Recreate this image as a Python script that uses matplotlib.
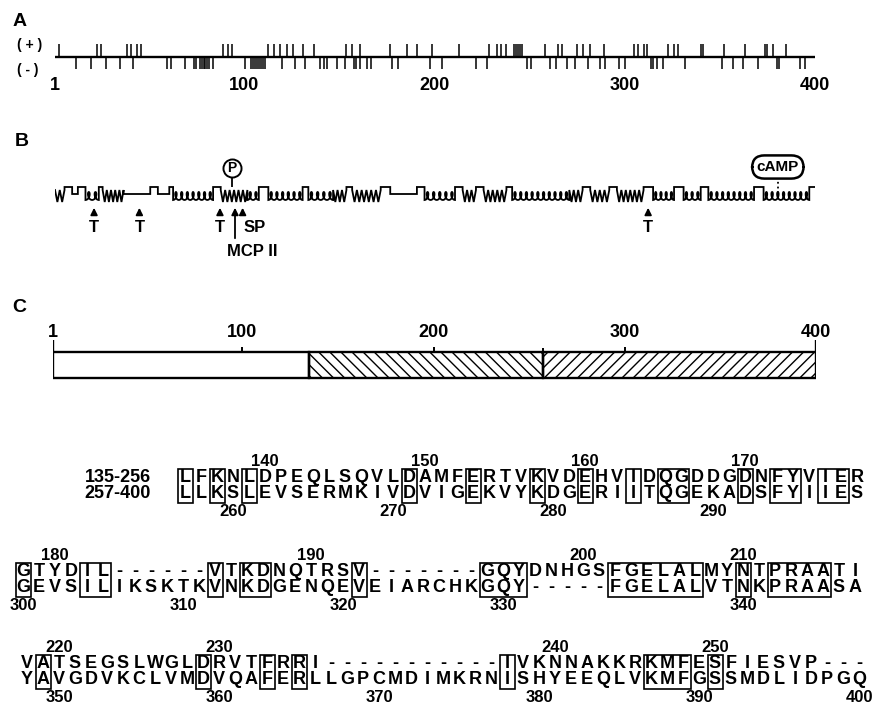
#!/usr/bin/env python3
"""
plot.py

Redraws the three-panel protein map: (A) charged residues along the chain,
(B) predicted secondary structure with cleavage sites, (C) domain layout
and the alignment of the two internal repeats.  Output goes to out.png.
"""

import numpy as np
import matplotlib
matplotlib.use('Agg')
import matplotlib.pyplot as plt
from matplotlib.patches import Rectangle

W, H = 875, 708

plt.rcParams['font.family'] = ['Liberation Sans', 'DejaVu Sans']
plt.rcParams['font.weight'] = 'bold'
plt.rcParams['hatch.linewidth'] = 1.0

# --- panel A: residue numbers of charged side chains ---
pos_charge = [3, 23, 25, 39, 41, 44, 46, 89, 92, 94, 113, 116, 119, 123, 126,
              131, 137, 154, 157, 161, 177, 186, 191, 199, 213, 229, 233, 235,
              238, 242, 243, 244, 245, 246, 258, 265, 267, 275, 278, 282, 289,
              305, 307, 310, 312, 323, 326, 328, 340, 341, 352, 363, 374, 375,
              378, 385]
neg_charge = [12, 20, 28, 35, 42, 60, 62, 69, 74, 75, 77, 78, 79, 80, 81, 82,
              84, 101, 104, 105, 106, 107, 108, 109, 110, 111, 120, 127, 132,
              140, 142, 144, 149, 153, 158, 159, 161, 165, 167, 178, 181, 198,
              204, 222, 228, 249, 251, 261, 264, 270, 274, 281, 287, 290, 297,
              300, 314, 315, 317, 320, 332, 351, 357, 362, 370, 380, 381, 392,
              395]
axis_ticks = [1, 100, 200, 300, 400]

# --- panel B: secondary structure segments (type, first, last residue) ---
# E = beta strand, H = helix, T = turn, C = coil
ss_types = ['E', 'T', 'C', 'T', 'H', 'T', 'E', 'C', 'T', 'C', 'T', 'H', 'T',
            'E', 'H', 'T', 'H', 'T', 'H', 'E', 'T', 'E', 'T', 'C', 'T', 'H',
            'T', 'E', 'T', 'E', 'T', 'H', 'E', 'T', 'E', 'T', 'E', 'T', 'H',
            'T', 'H', 'T', 'H', 'T', 'H', 'T']
ss_bounds = [1, 6, 10, 13, 17, 24, 26, 37, 51, 55, 61, 63, 84, 88, 102, 108,
             113, 131, 134, 147, 154, 157, 172, 177, 191, 195, 211, 215, 222,
             226, 238, 241, 271, 278, 282, 292, 296, 310, 315, 326, 331, 340,
             344, 368, 373, 397, 400]
trypsin_sites = [21.5, 45.3, 87.6, 312.4]
mcp_site = 95.5
sp_site = 99.5
phospho_site = 93.8
camp_site = 380.5

# --- panel C: domains ---
domain_bounds = [1, 135, 257, 400]
domain_hatch = [None, '\\\\\\', '///']

# --- alignment of the repeats ---
seq_top = ['LFKNLDPEQLSQVLDAMFERTVKVDEHVIDQGDDGDNFYVIER',
           'GTYDIL------VTKDNQTRSV-------GQYDNHGSFGELALMYNTPRAATI',
           'VATSEGSLWGLDRVTFRRI-----------IVKNNAKKRKMFESFIESVP---']
seq_bot = ['LLKSLEVSERMKIVDVIGEKVYKDGERIITQGEKADSFYIIES',
           'GEVSILIKSKTKVNKDGENQEVEIARCHKGQY-----FGELALVTNKPRAASA',
           'YAVGDVKCLVMDVQAFERLLGPCMDIMKRNISHYEEQLVKMFGSSMDLIDPGQ']
num_top = [[('140', 5), ('150', 15), ('160', 25), ('170', 35)],
           [('180', 2), ('190', 18), ('200', 35), ('210', 45)],
           [('220', 2), ('230', 12), ('240', 33), ('250', 43)]]
num_bot = [[('260', 3), ('270', 13), ('280', 23), ('290', 33)],
           [('300', 0), ('310', 10), ('320', 20), ('330', 30), ('340', 45)],
           [('350', 2), ('360', 12), ('370', 22), ('380', 32), ('390', 42),
            ('400', 52)]]
# identical residues, boxed as column ranges
boxes = [[(0, 0), (2, 2), (4, 4), (14, 14), (18, 18), (22, 22), (25, 25),
          (28, 28), (30, 31), (35, 35), (37, 38), (40, 41)],
         [(0, 0), (4, 5), (12, 12), (14, 15), (21, 21), (29, 31), (37, 42),
          (45, 45), (47, 50)],
         [(1, 1), (11, 11), (15, 15), (17, 17), (30, 30), (39, 41), (43, 43)]]
row_labels = ['135-256', '257-400']


def residue_axes(fig, x1, x400, ytop, ybot, ylim):
    """Axes whose x scale is residue number, placed by pixel box."""
    ax = fig.add_axes([x1 / W, 1 - ybot / H, (x400 - x1) / W, (ybot - ytop) / H])
    ax.set_xlim(1, 400)
    ax.set_ylim(*ylim)
    ax.axis('off')
    return ax


def draw_charge(fig, bg):
    ax = residue_axes(fig, 55, 815, 17, 97, (-40, 40))
    ax.hlines(0, 1, 400, color='black', lw=1.7)
    ax.vlines(pos_charge, 0, 13, color='black', lw=1.1)
    ax.vlines(neg_charge, -12, 0, color='black', lw=1.1)
    for t in axis_ticks:
        ax.text(t, -28, str(t), ha='center', va='center', fontsize=13,
                fontweight='bold', clip_on=False)
    bg.text(13, 21, 'A', fontsize=14, fontweight='bold', va='center')
    bg.text(17, 45, '( + )', fontsize=10, fontweight='bold', va='center')
    bg.text(17, 70, '( - )', fontsize=10, fontweight='bold', va='center')


def structure_path():
    xs, ys = [], []
    for kind, r0, r1 in zip(ss_types, ss_bounds[:-1], ss_bounds[1:]):
        if kind == 'E':
            n = max(1, int(round((r1 - r0) / 2.4)))
            px = np.linspace(r0, r1, 2 * n + 1)
            py = np.where(np.arange(2 * n + 1) % 2 == 0, 10, -2)
        elif kind == 'H':
            n = max(1, int(round((r1 - r0) / 3.0)))
            t = np.linspace(0, 2 * np.pi * n, 40 * n)
            c = (r1 - r0) / (2 * np.pi * n)
            px = r0 + c * t + 2.2 * c * np.sin(t)
            py = 4 * (1 - np.cos(t))
        elif kind == 'T':
            px = np.array([r0, r1])
            py = np.array([13, 13])
        else:
            px = np.array([r0, r1])
            py = np.array([6, 6])
        xs.extend(px)
        ys.extend(py)
    return xs, ys


def draw_structure(fig, bg):
    ax = residue_axes(fig, 55, 815, 150, 260, (-60, 50))
    xs, ys = structure_path()
    ax.plot(xs, ys, color='black', lw=1.3, solid_joinstyle='miter')

    arrow = dict(arrowstyle='-|>', color='black', lw=1.3, mutation_scale=10)
    for r in trypsin_sites:
        ax.annotate('', xy=(r, -5), xytext=(r, -17), arrowprops=arrow)
        ax.text(r, -27, 'T', ha='center', va='center', fontsize=12,
                fontweight='bold')
    ax.annotate('', xy=(sp_site, -5), xytext=(sp_site, -17), arrowprops=arrow)
    ax.text(sp_site + 0.6, -27, 'SP', ha='left', va='center', fontsize=12,
            fontweight='bold')
    ax.annotate('', xy=(mcp_site, -5), xytext=(mcp_site, -41), arrowprops=arrow)
    ax.text(mcp_site + 9, -51, 'MCP II', ha='center', va='center', fontsize=12,
            fontweight='bold')

    # phosphorylation site
    ax.vlines(phospho_site, 13, 24, color='black', lw=1.3)
    ax.plot([phospho_site], [32.5], 'o', ms=13, mfc='white', mec='black',
            mew=1.4)
    ax.text(phospho_site, 32.5, 'P', ha='center', va='center', fontsize=10,
            fontweight='bold')

    # cAMP binding site
    ax.vlines(camp_site, 2, 23, color='black', lw=1.3, linestyles=':')
    ax.text(camp_site, 33, 'cAMP', ha='center', va='center', fontsize=11,
            fontweight='bold',
            bbox=dict(boxstyle='round,pad=0.3,rounding_size=0.8', fc='white',
                      ec='black', lw=1.8))
    bg.text(15, 142, 'B', fontsize=14, fontweight='bold', va='center')


def draw_domains(fig, bg):
    ax = residue_axes(fig, 53, 816, 320, 390, (-12, 58))
    for (r0, r1), hatch in zip(zip(domain_bounds[:-1], domain_bounds[1:]),
                               domain_hatch):
        if hatch is None:
            ax.add_patch(Rectangle((r0, 0), r1 - r0, 26, fc='white',
                                   ec='black', lw=1.7))
        else:
            ax.add_patch(Rectangle((r0, 0), r1 - r0, 26, fill=False,
                                   ec='black', lw=1.7, hatch=hatch))
    ax.vlines([1, 400], 26, 38, color='black', lw=1.7)
    ax.vlines([100, 200, 300], 26, 31, color='black', lw=1.4)
    ax.vlines(domain_bounds[2], 26, 30, color='black', lw=1.4)
    for t in axis_ticks:
        ax.text(t, 45, str(t), ha='center', va='center', fontsize=13,
                fontweight='bold')
    bg.text(12, 307, 'C', fontsize=14, fontweight='bold', va='center')


def draw_alignment(bg):
    x0s = [185, 23, 27]
    y_top = [478, 572, 664]
    y_bot = [494, 588, 680]
    step = 16
    for i in range(3):
        for col, ch in enumerate(seq_top[i]):
            bg.text(x0s[i] + col * step, y_top[i], ch, ha='center',
                    va='center', fontsize=13, fontweight='bold')
        for col, ch in enumerate(seq_bot[i]):
            bg.text(x0s[i] + col * step, y_bot[i], ch, ha='center',
                    va='center', fontsize=13, fontweight='bold')
        for label, col in num_top[i]:
            bg.text(x0s[i] + col * step, y_top[i] - 17, label, ha='center',
                    va='center', fontsize=12, fontweight='bold')
        for label, col in num_bot[i]:
            bg.text(x0s[i] + col * step, y_bot[i] + 17, label, ha='center',
                    va='center', fontsize=12, fontweight='bold')
        for c0, c1 in boxes[i]:
            left = x0s[i] + c0 * step - 7.5
            width = (c1 - c0) * step + 15
            bg.add_patch(Rectangle((left, y_top[i] - 9), width,
                                   y_bot[i] - y_top[i] + 18, fill=False,
                                   ec='black', lw=1.2))
    bg.text(118, y_top[0], row_labels[0], ha='center', va='center',
            fontsize=13, fontweight='bold')
    bg.text(118, y_bot[0], row_labels[1], ha='center', va='center',
            fontsize=13, fontweight='bold')


def main():
    fig = plt.figure(figsize=(W / 100, H / 100), dpi=100, facecolor='white')
    bg = fig.add_axes([0, 0, 1, 1])
    bg.set_xlim(0, W)
    bg.set_ylim(H, 0)
    bg.axis('off')

    draw_charge(fig, bg)
    draw_structure(fig, bg)
    draw_domains(fig, bg)
    draw_alignment(bg)

    fig.savefig('out.png', dpi=100, facecolor='white')
    plt.close(fig)


if __name__ == '__main__':
    main()
